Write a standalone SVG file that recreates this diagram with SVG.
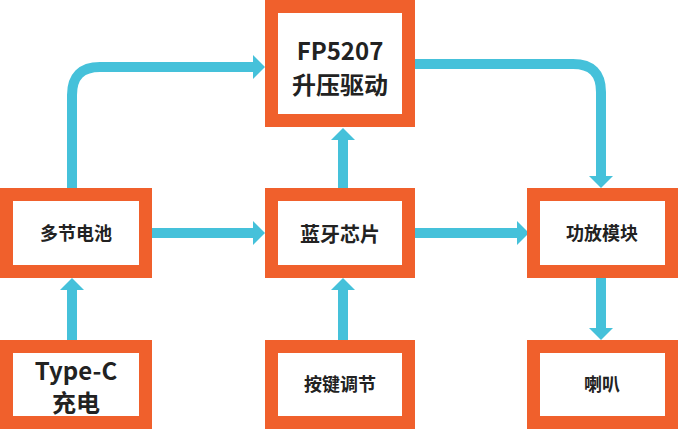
<svg xmlns="http://www.w3.org/2000/svg" width="680" height="429" viewBox="0 0 680 429">
<style>
.box{fill:#fff;stroke:#f0602c;stroke-width:13}
.ln{fill:none;stroke:#45c1da;stroke-width:10}
.t{font-family:"Noto Sans CJK SC","Noto Sans",sans-serif;font-weight:bold;fill:#222;text-anchor:middle}
</style>
<defs>
<marker id="a" markerUnits="userSpaceOnUse" markerWidth="24" markerHeight="24" refX="0" refY="12" orient="auto" viewBox="0 0 24 24"><path d="M0,0 L12,12 L0,24 Z" fill="#45c1da"/></marker>
</defs>
<rect width="680" height="429" fill="#fff"/>
<g id="connectors">
<path class="ln" d="M72,188 V95 Q72,67 100,67 H253" marker-end="url(#a)"/>
<path class="ln" d="M415,64 H573 Q601,64 601,92 V176" marker-end="url(#a)"/>
<path class="ln" d="M152,233 H253" marker-end="url(#a)"/>
<path class="ln" d="M415,233 H517" marker-end="url(#a)"/>
<path class="ln" d="M343,188 V140" marker-end="url(#a)"/>
<path class="ln" d="M72,340 V290" marker-end="url(#a)"/>
<path class="ln" d="M343,340 V290" marker-end="url(#a)"/>
<path class="ln" d="M601,278 V328" marker-end="url(#a)"/>
</g>
<g id="fp5207"><rect class="box" x="271.5" y="6.5" width="137" height="114"/><text class="t" x="340" y="60" font-size="24">FP5207</text><text class="t" x="340" y="94" font-size="24">升压驱动</text></g>
<g id="battery"><rect class="box" x="6.5" y="194.5" width="139" height="77"/><text class="t" x="76" y="240" font-size="18">多节电池</text></g>
<g id="bt"><rect class="box" x="271.5" y="194.5" width="137" height="77"/><text class="t" x="340" y="242" font-size="20">蓝牙芯片</text></g>
<g id="amp"><rect class="box" x="533.5" y="194.5" width="138" height="77"/><text class="t" x="602" y="240" font-size="18">功放模块</text></g>
<g id="typec"><rect class="box" x="6.5" y="346.5" width="139" height="76"/><text class="t" x="76" y="380" font-size="24">Type-C</text><text class="t" x="76" y="412" font-size="24">充电</text></g>
<g id="key"><rect class="box" x="271.5" y="346.5" width="137" height="76"/><text class="t" x="340" y="391" font-size="18">按键调节</text></g>
<g id="spk"><rect class="box" x="533.5" y="346.5" width="138" height="76"/><text class="t" x="602" y="391" font-size="18">喇叭</text></g>
</svg>
